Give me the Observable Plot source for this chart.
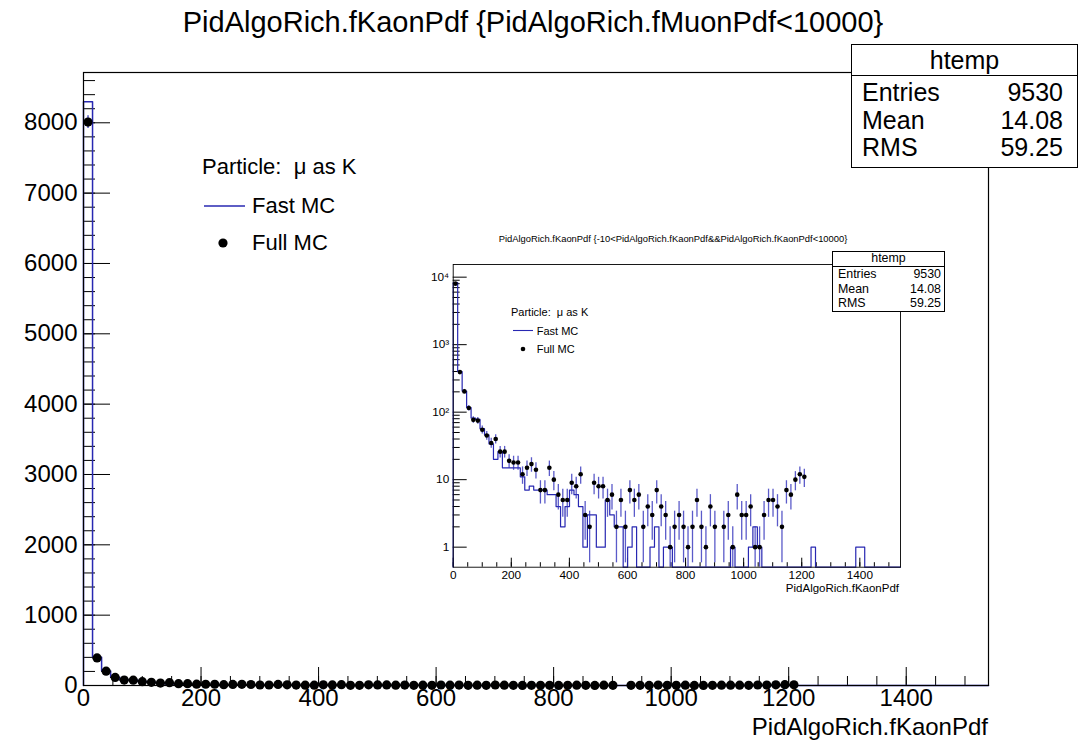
<!DOCTYPE html>
<html><head><meta charset="utf-8">
<script src="https://cdn.jsdelivr.net/npm/d3@7"></script>
<script src="https://cdn.jsdelivr.net/npm/@observablehq/plot@0.6"></script>
<style>
body{margin:0;background:#fff;font-family:"Liberation Sans",Arial,Helvetica,sans-serif;}
#wrap{position:relative;width:1090px;height:741px;overflow:hidden;background:#fff;}
.abs{position:absolute;white-space:pre;color:#000;line-height:1;}
svg{display:block}
</style></head><body><div id="wrap"></div>
<script>
// ---------- data ----------
const nBins = 100;
const xRange = [0, 1540];
// Full MC (data points) bin contents, bins 0..78 (later bins empty)
const fullMC = [8010, 392, 203, 115, 77, 75, 55, 45, 35, 40,
  26, 26, 19, 18, 18, 12, 15, 17, 14, 7,
  7, 15, 10, 6, 5, 5, 9, 8, 12, 3,
  2, 9, 8, 8, 5, 6, 2, 5, 2, 7,
  5, 6, 2, 4, 3, 7, 4, 3, 1, 2,
  3, 2, 1, 2, 5, 2, 1, 4, 2, 0,
  2, 3, 1, 6, 3, 3, 4, 1, 1, 3,
  5, 5, 4, 2, 7, 6, 10, 12, 11];
// Fast MC (histogram) bin contents, bins 0..91 (later bins empty)
const fastMC = [8300, 400, 205, 117, 82, 78, 57, 46, 34, 20,
  26, 15, 15, 15, 15, 11, 7, 8, 7, 7,
  7, 6, 6, 4, 2, 4, 7, 6, 4, 1,
  3, 3, 1, 1, 5, 3, 2, 2, 0, 1,
  2, 0, 0, 0, 1, 2, 0, 1, 1, 0,
  0, 0, 0, 0, 0, 0, 0, 0, 0, 0,
  0, 0, 1, 0, 0, 0, 1, 2, 1, 0,
  0, 0, 0, 0, 0, 0, 0, 0, 0, 0,
  1, 0, 0, 0, 0, 0, 0, 0, 0, 0,
  1, 1];
const mainTitle = "PidAlgoRich.fKaonPdf {PidAlgoRich.fMuonPdf<10000}";
const insetTitle = "PidAlgoRich.fKaonPdf {-10<PidAlgoRich.fKaonPdf&&PidAlgoRich.fKaonPdf<10000}";
const xTitle = "PidAlgoRich.fKaonPdf";
const statsLabels = ["Entries", "Mean", "RMS"];
const statsValues = ["9530", "14.08", "59.25"];
const legendHeader = "Particle:  \u03bc as K";
const legendNames = ["Fast MC", "Full MC"];
const xMajor = [0, 200, 400, 600, 800, 1000, 1200, 1400];
const xMinor = d3.range(0, 1541, 50);
const yMajor = [0, 1000, 2000, 3000, 4000, 5000, 6000, 7000, 8000];
const yMinor = d3.range(0, 8701, 200);
const logMajor = [1, 10, 100, 1000, 10000];
const logLabels = ["1", "10", "10\u00b2", "10\u00b3", "10\u2074"];

// ---------- derived tables ----------
const bw = (xRange[1] - xRange[0]) / nBins;
const bins = d3.range(nBins).map(i => ({
  lo: xRange[0] + i * bw, hi: xRange[0] + (i + 1) * bw, c: xRange[0] + (i + 0.5) * bw,
  fast: fastMC[i] ?? 0, full: fullMC[i] ?? 0
}));
function steps(floor) {
  const pts = [{x: xRange[0], y: floor}];
  for (const b of bins) {
    const v = b.fast > 0 ? b.fast : floor;
    pts.push({x: b.lo, y: v}, {x: b.hi, y: v});
  }
  pts.push({x: xRange[1], y: floor});
  return pts;
}
const fullPts = bins.filter(b => b.full > 0).map(b => ({
  ...b, v: b.full, e1: b.full - Math.sqrt(b.full), e2: b.full + Math.sqrt(b.full)
}));
const logMinor = [];
for (const d of [1, 10, 100, 1000, 10000]) for (let k = 2; k <= 9; k++) if (k * d < 15400) logMinor.push(k * d);

const blue = "#2828b2";
const ebBlue = "#3232bb";
const font = "Liberation Sans, Arial, Helvetica, sans-serif";
const wrap = document.getElementById("wrap");
const fmt = d => String(d);

function txt(s, x, y, size, anchor = "start") {
  const d = document.createElement("div");
  d.className = "abs";
  d.textContent = s;
  d.style.left = x + "px"; d.style.top = y + "px"; d.style.fontSize = size + "px";
  const tx = anchor === "middle" ? "-50%" : anchor === "end" ? "-100%" : "0";
  d.style.transform = `translate(${tx},-50%)`;
  wrap.appendChild(d);
  return d;
}
function place(node, x, y) {
  node.style.position = "absolute"; node.style.left = x + "px"; node.style.top = y + "px";
  wrap.appendChild(node);
}

// ---------- main plot ----------
const main = Plot.plot({
  width: 1090, height: 741,
  marginLeft: 83, marginRight: 102, marginTop: 72, marginBottom: 56,
  x: {domain: xRange},
  y: {domain: [0, 8715]},
  style: {fontFamily: font, background: "#fff", color: "#000"},
  marks: [
    Plot.axisX({ticks: xMinor, tickSize: -9, tickFormat: () => "", label: null}),
    Plot.axisX({ticks: xMajor, tickSize: -18, tickFormat: () => "", label: null}),
    Plot.axisX({ticks: xMajor, tickSize: 0, tickPadding: 3, fontSize: 24, label: null, tickFormat: fmt}),
    Plot.axisY({ticks: yMinor, tickSize: -12, tickFormat: () => "", label: null}),
    Plot.axisY({ticks: yMajor, tickSize: -27, tickFormat: () => "", label: null}),
    Plot.axisY({ticks: yMajor, tickSize: 0, tickPadding: 6, fontSize: 24, label: null, tickFormat: fmt}),
    Plot.line(steps(0), {x: "x", y: "y", stroke: blue, strokeWidth: 1.5}),
    Plot.ruleY(fullPts, {y: "v", x1: "lo", x2: "hi", stroke: "#000", strokeWidth: 1}),
    Plot.ruleX(fullPts, {x: "c", y1: "e1", y2: "e2", stroke: blue, strokeWidth: 1.2}),
    Plot.dot(fullPts, {x: "c", y: "v", r: 4.6, fill: "#000", stroke: null}),
    Plot.frame({stroke: "#000", strokeWidth: 1.2})
  ]
});
place(main, 0, 0);

// ---------- inset plot ----------
const inset = Plot.plot({
  width: 520, height: 372,
  marginLeft: 22.7, marginRight: 50, marginTop: 36, marginBottom: 33.3,
  x: {domain: xRange},
  y: {type: "log", domain: [0.505, 15400], clamp: true},
  style: {fontFamily: font, background: "#fff", color: "#000"},
  marks: [
    Plot.axisX({ticks: xMinor, tickSize: -4.5, tickFormat: () => "", label: null}),
    Plot.axisX({ticks: xMajor, tickSize: -9, tickFormat: () => "", label: null}),
    Plot.axisX({ticks: xMajor, tickSize: 0, tickPadding: 3, fontSize: 11.8, label: null, tickFormat: fmt}),
    Plot.axisY({ticks: logMinor, tickSize: -7, tickFormat: () => "", label: null}),
    Plot.axisY({ticks: logMajor, tickSize: -14, tickFormat: () => "", label: null}),
    Plot.axisY({ticks: logMajor, tickSize: 0, tickPadding: 4, fontSize: 11.8, label: null,
      tickFormat: d => logLabels[logMajor.indexOf(d)]}),
    Plot.line(steps(0.01), {x: "x", y: "y", stroke: blue, strokeWidth: 1.2}),
    Plot.ruleX(fullPts, {x: "c", y1: d => Math.max(d.e1, 0.01), y2: "e2", stroke: ebBlue, strokeWidth: 1.3, strokeOpacity: 0.8}),
    Plot.dot(fullPts, {x: "c", y: "v", r: 2.3, fill: "#000", stroke: null}),
    Plot.frame({stroke: "#000", strokeWidth: 0.9})
  ]
});
place(inset, 430, 228);

// ---------- texts ----------
txt(mainTitle, 533, 22, 29, "middle");
txt(xTitle, 988, 727, 24, "end");
txt(insetTitle, 673, 238.5, 9.4, "middle");
txt(xTitle, 899, 589, 11.5, "end");

// main legend
txt(legendHeader, 202, 167, 22);
txt(legendNames[0], 252, 206, 22);
txt(legendNames[1], 252, 243, 22);
const ns = "http://www.w3.org/2000/svg";
function legendSym(x, y, w, h, kind, size) {
  const s = document.createElementNS(ns, "svg");
  s.setAttribute("width", w); s.setAttribute("height", h);
  s.style.position = "absolute"; s.style.left = (x - w / 2) + "px"; s.style.top = (y - h / 2) + "px";
  if (kind === "line") {
    const l = document.createElementNS(ns, "line");
    l.setAttribute("x1", 0); l.setAttribute("x2", w); l.setAttribute("y1", h / 2); l.setAttribute("y2", h / 2);
    l.setAttribute("stroke", blue); l.setAttribute("stroke-width", size);
    s.appendChild(l);
  } else {
    const c = document.createElementNS(ns, "circle");
    c.setAttribute("cx", w / 2); c.setAttribute("cy", h / 2); c.setAttribute("r", size);
    c.setAttribute("fill", "#000");
    s.appendChild(c);
  }
  wrap.appendChild(s);
}
legendSym(224.5, 206, 41, 4, "line", 1.5);
legendSym(223, 243, 12, 12, "dot", 4.6);

// inset legend
txt(legendHeader, 511, 311.7, 11);
txt(legendNames[0], 536.7, 330.7, 11);
txt(legendNames[1], 536.7, 349.3, 11);
legendSym(522.5, 330.7, 20, 3, "line", 1.1);
legendSym(522.7, 349.3, 6, 6, "dot", 2.3);

// stats boxes
function statsBox(left, top, right, bottom, headLine, headY, rowsY, labelX, valueX, size, bwid) {
  const b = document.createElement("div");
  b.style.cssText = `position:absolute;left:${left}px;top:${top}px;width:${right - left}px;height:${bottom - top}px;border:${bwid}px solid #000;box-sizing:border-box;background:#fff`;
  wrap.appendChild(b);
  const l = document.createElement("div");
  l.style.cssText = `position:absolute;left:${left}px;top:${headLine}px;width:${right - left}px;height:0;border-top:${bwid}px solid #000`;
  wrap.appendChild(l);
  txt("htemp", (left + right) / 2, headY, size, "middle");
  statsLabels.forEach((s, i) => {
    txt(s, labelX, rowsY[i], size);
    txt(statsValues[i], valueX, rowsY[i], size, "end");
  });
}
statsBox(851, 44, 1078, 168, 75, 60, [92, 119.5, 147], 862, 1063, 25, 1.5);
statsBox(832, 251, 945, 311.5, 265.5, 258, [274, 288.5, 303], 838, 941, 12.4, 1);
</script>
</body></html>
